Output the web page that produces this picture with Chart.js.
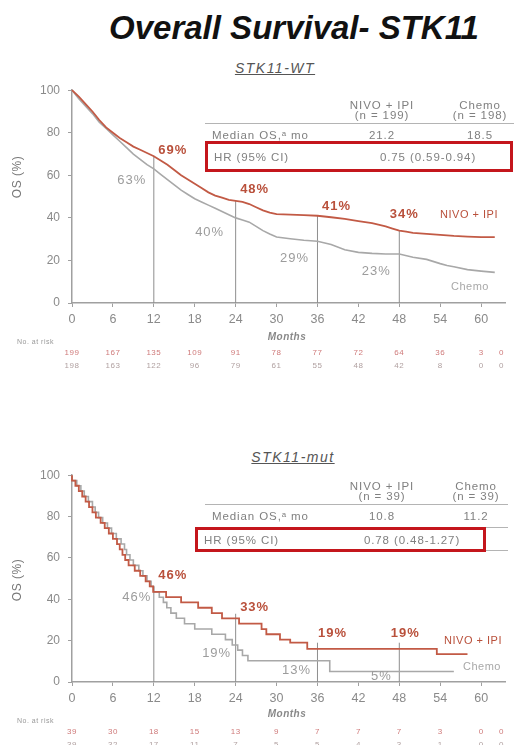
<!DOCTYPE html>
<html>
<head>
<meta charset="utf-8">
<script src="https://cdn.jsdelivr.net/npm/chart.js@4.4.1/dist/chart.umd.min.js"></script>
<style>
  html, body { margin: 0; padding: 0; background: #fff; overflow: hidden; }
  #wrap { position: relative; width: 514px; height: 745px; font-family: "Liberation Sans", Arial, sans-serif; }
  canvas { position: absolute; left: 0; }
  .t { position: absolute; white-space: nowrap; transform: translate(-50%, -50%); color: #808080; font-size: 11.5px; letter-spacing: 0.9px; }
  .l { transform: translate(0, -50%); }
  .box { position: absolute; border: 3px solid #c4161c; box-sizing: border-box; }
  .rule { position: absolute; height: 0; border-top: 1.5px solid #b4b4b4; }
  #title { position: absolute; left: 294px; top: 28px; transform: translate(-50%, -50%); white-space: nowrap;
           font: italic bold 33px "Liberation Sans", Arial, sans-serif; color: #111; }
  .sub { position: absolute; transform: translate(-50%, -50%); white-space: nowrap; font: italic 14px "Liberation Sans", Arial, sans-serif;
         color: #555; text-decoration: underline; letter-spacing: 1.5px; }
</style>
</head>
<body>
<div id="wrap">
  <div id="title">Overall Survival- STK11</div>
  <div class="sub" style="left:275px;top:68px">STK11-WT</div>
  <div class="sub" style="left:293px;top:457px">STK11-mut</div>
  <canvas id="wt" width="514" height="300" style="top:75px"></canvas>
  <canvas id="mut" width="514" height="285" style="top:460px"></canvas>
</div>
<script>
// axis ticks
const xTicks = [0, 6, 12, 18, 24, 30, 36, 42, 48, 54, 60];
const yTicks = [0, 20, 40, 60, 80, 100];
const landmarks = [12, 24, 36, 48];
const riskMonths = [0, 6, 12, 18, 24, 30, 36, 42, 48, 54, 60, 63];

// STK11-WT: [month, OS %]
const wtNivo = [[0,100],[1,97],[2,93.5],[3,90],[4,86],[5,82.5],[6,80],[7,77.5],[8,75.5],[9,73.5],[10,72],[11,70.5],
  [12,69],[13,67],[14,65],[15,62.5],[16,60],[17,58],[18,56],[19,54],[20,52],[21,50.5],[22,49.5],[23,48.5],[24,48],
  [25,47.5],[26,46.5],[27,45],[28,43.5],[29,42.5],[30,41.8],[32,41.5],[34,41.3],[36,41],[38,40.3],[40,39.5],[42,38.5],
  [44,37.5],[46,36],[47,35],[48,34],[49,33.5],[50,33],[52,32.5],[54,32],[56,31.5],[58,31.2],[60,31],[62,31]];
const wtChemo = [[0,100],[1,96],[2,92.5],[3,89],[4,85],[5,82],[6,79],[7,76],[8,73],[9,70],[10,67.5],[11,65],
  [12,63],[13,60.5],[14,58],[15,55.5],[16,53],[17,51],[18,49],[19,47.5],[20,46],[21,44.5],[22,43],[23,41.5],[24,40],
  [25,39],[26,38],[27,36],[28,34],[29,32.4],[30,31],[32,30.2],[34,29.5],[36,29],[38,27.5],[40,25],[42,23.8],[44,23.3],
  [46,23],[48,23],[50,21.5],[52,20.5],[54,18.5],[55,17.6],[56,17],[58,15.7],[60,15],[62,14.4]];
const wtNivoPct = [69, 48, 41, 34];
const wtChemoPct = [63, 40, 29, 23];
const wtRiskNivo = [199, 167, 135, 109, 91, 78, 77, 72, 64, 36, 3, 0];
const wtRiskChemo = [198, 163, 122, 96, 79, 61, 55, 48, 42, 8, 0, 0];
const wtTable = { n: ['(n = 199)', '(n = 198)'], median: ['21.2', '18.5'], hr: '0.75 (0.59-0.94)' };

// STK11-mut: [month, OS %]
const mutNivo = [[0,100],[0.5,97.4],[1,94.9],[1.5,92.3],[2,89.7],[2.5,87.2],[3,84.6],[3.5,82],[4.2,79.5],[4.8,76.9],
  [5.4,74.4],[6,71.8],[6.6,69.2],[7,66.7],[7.4,64.1],[7.8,61.5],[8.3,59],[9.2,56.4],[10,53.8],[10.8,51.3],[11.4,48.7],
  [11.9,46.2],[13.8,43.6],[16,41],[18.5,38.5],[20.5,35.9],[22,33.3],[24.5,30.8],[27.8,28.2],[28.5,25.6],[30.5,23.1],
  [32,20.5],[34.5,19],[53.5,16],[54,13.5],[58,13.5]];
const mutChemo = [[0,100],[0.7,97.4],[1.3,94.9],[1.8,92.3],[2.4,89.7],[3,87.2],[3.4,84.6],[3.9,82],[4.5,79.5],
  [5.2,76.9],[5.8,74.4],[6.5,71.8],[7.2,69.2],[7.7,66.7],[8,64.1],[8.5,61.5],[9,59],[9.8,56.4],[10.4,53.8],[11,51.3],
  [11.6,48.7],[12,46.2],[12.8,43.6],[13.4,41],[13.9,38.5],[14.5,35.9],[15.3,33.3],[16.5,30.8],[18,28.2],[20.5,25.6],
  [22.5,23.1],[23.5,20.5],[24.3,17.9],[25,15.4],[25.8,12.8],[37.8,10.3],[48,5.1],[56,5.1]];
const mutNivoPct = [46, 33, 19, 19];
const mutChemoPct = [46, 19, 13, 5];
const mutRiskNivo = [39, 30, 18, 15, 13, 9, 7, 7, 7, 3, 0, 0];
const mutRiskChemo = [39, 32, 17, 11, 7, 5, 5, 4, 3, 1, 0, 0];
const mutTable = { n: ['(n = 39)', '(n = 39)'], median: ['10.8', '11.2'], hr: '0.78 (0.48-1.27)' };

const RED = '#c25a45';
const RED_TXT = '#b9503b';
const GREY = '#a8a8a8';
const AXIS = '#a0a0a0';
const FONT = '"Liberation Sans", Arial, sans-serif';

/* ---------- HTML table overlay ---------- */
const wrap = document.getElementById('wrap');
function addText(text, x, y, cls, css) {
  const d = document.createElement('div');
  d.className = cls || 't';
  d.textContent = text;
  d.style.left = x + 'px';
  d.style.top = y + 'px';
  if (css) d.style.cssText += css;
  wrap.appendChild(d);
}
function addDiv(cls, css) {
  const d = document.createElement('div');
  d.className = cls;
  d.style.cssText = css;
  wrap.appendChild(d);
}
function drawTable(t, top, o) {
  addText('NIVO + IPI', 382, top, 't');
  addText('Chemo', o.chemoX, top, 't');
  addText(t.n[0], 382, top + 10, 't');
  addText(t.n[1], o.chemoX, top + 10, 't');
  addDiv('rule', `left:205px;width:${o.ruleW}px;top:${top + 18}px`);
  addText('Median OS,ᵃ mo', 212, top + 30, 't l');
  addText(t.median[0], 382, top + 30, 't');
  addText(t.median[1], o.chemoX, top + 30, 't');
  addDiv('box', `left:${o.boxL}px;top:${o.boxT}px;width:${o.boxW}px;height:${o.boxH}px`);
  addText('HR (95% CI)', o.boxL + 9, o.boxT + o.boxH / 2, 't l');
  addText(t.hr, o.hrX, o.boxT + o.boxH / 2, 't');
}
drawTable(wtTable, 105, { chemoX: 480, ruleW: 309, boxL: 205, boxT: 141, boxW: 308, boxH: 31, hrX: 428 });
drawTable(mutTable, 486, { chemoX: 476, ruleW: 303, boxL: 195, boxT: 527, boxW: 291, boxH: 25, hrX: 412 });
addDiv('rule', 'left:486px;width:22px;top:527px');
addDiv('rule', 'left:486px;width:22px;top:550px');

/* ---------- chart plugin: labels, axis titles, numbers at risk ---------- */
const overlay = {
  id: 'overlay',
  afterDraw(chart, args, o) {
    const { ctx, scales: { x, y }, chartArea } = chart;
    ctx.save();
    ctx.textAlign = 'center';
    ctx.textBaseline = 'middle';

    // landmark percentages
    o.marks.forEach(m => {
      ctx.font = m.font;
      ctx.fillStyle = m.color;
      ctx.letterSpacing = '1px';
      ctx.fillText(m.text, x.getPixelForValue(m.month) + m.dx, y.getPixelForValue(m.pct) + m.dy);
    });
    ctx.letterSpacing = '0.5px';

    // arm names at the end of the curves
    ctx.font = '11px ' + FONT;
    ctx.fillStyle = RED_TXT;
    ctx.fillText('NIVO + IPI', o.nivoTag[0], o.nivoTag[1]);
    ctx.fillStyle = GREY;
    ctx.fillText('Chemo', o.chemoTag[0], o.chemoTag[1]);

    // y title
    ctx.save();
    ctx.translate(18, o.yTitleY);
    ctx.rotate(-Math.PI / 2);
    ctx.fillStyle = '#777';
    ctx.font = '12px ' + FONT;
    ctx.fillText('OS (%)', 0, 0);
    ctx.restore();

    // x title
    ctx.font = 'italic bold 10px ' + FONT;
    ctx.fillStyle = '#888';
    ctx.fillText('Months', 287, chartArea.bottom + o.monthsDy);

    // numbers at risk
    ctx.textAlign = 'left';
    ctx.font = '7px ' + FONT;
    ctx.fillStyle = '#999';
    ctx.fillText('No. at risk', 17, chartArea.bottom + o.riskDy);
    ctx.textAlign = 'center';
    ctx.font = '8px ' + FONT;
    o.risk.forEach((row, r) => {
      ctx.fillStyle = r === 0 ? '#cf7a7a' : '#b0a0a0';
      row.forEach((n, i) => {
        ctx.fillText(String(n), x.getPixelForValue(riskMonths[i]), chartArea.bottom + o.riskDy + 11 + r * 13);
      });
    });
    ctx.restore();
  }
};

function pts(arr) { return arr.map(p => ({ x: p[0], y: p[1] })); }

function buildMarks(nivoPct, chemoPct, offs) {
  const out = [];
  landmarks.forEach((m, i) => {
    out.push({ text: nivoPct[i] + '%', month: m, pct: nivoPct[i], dx: offs.nivo[i][0], dy: offs.nivo[i][1],
               color: RED_TXT, font: 'bold 13px ' + FONT });
    out.push({ text: chemoPct[i] + '%', month: m, pct: chemoPct[i], dx: offs.chemo[i][0], dy: offs.chemo[i][1],
               color: '#9c9c9c', font: '13px ' + FONT });
  });
  return out;
}

function makeChart(id, cfg) {
  const guides = landmarks.map((m, i) => ({
    data: [{ x: m, y: 0 }, { x: m, y: cfg.nivoPct[i] }],
    borderColor: '#8e8e8e', borderWidth: 1, pointRadius: 0, order: 3
  }));
  return new Chart(document.getElementById(id), {
    type: 'line',
    data: {
      datasets: [
        ...guides,
        { data: pts(cfg.chemo), borderColor: GREY, borderWidth: 1.6, pointRadius: 0, stepped: cfg.stepped, clip: 4, order: 2 },
        { data: pts(cfg.nivo), borderColor: RED, borderWidth: 1.8, pointRadius: 0, stepped: cfg.stepped, clip: 4, order: 1 }
      ]
    },
    options: {
      responsive: false,
      animation: false,
      layout: { padding: { top: cfg.padTop, right: 9, left: 0, bottom: 0 } },
      plugins: {
        legend: { display: false },
        tooltip: { enabled: false },
        overlay: cfg.overlay
      },
      scales: {
        x: {
          type: 'linear', min: 0, max: 63.5,
          afterBuildTicks: s => { s.ticks = xTicks.map(v => ({ value: v })); },
          afterFit: s => { s.height = cfg.xAxisH; },
          grid: { drawOnChartArea: false, drawTicks: true, tickLength: 4, color: AXIS },
          border: { display: true, color: AXIS, width: 1.5 },
          ticks: { color: '#8a8a8a', font: { size: 12.5, family: FONT }, padding: 5, maxRotation: 0 }
        },
        y: {
          min: 0, max: 100,
          afterBuildTicks: s => { s.ticks = yTicks.map(v => ({ value: v })); },
          afterFit: s => { s.width = 72; },
          grid: { drawOnChartArea: false, drawTicks: true, tickLength: 4, color: AXIS },
          border: { display: true, color: AXIS, width: 1.5 },
          ticks: { color: '#8a8a8a', font: { size: 12, family: FONT }, padding: 8 }
        }
      }
    },
    plugins: [overlay]
  });
}

makeChart('wt', {
  nivo: wtNivo, chemo: wtChemo, nivoPct: wtNivoPct, stepped: false,
  padTop: 12, xAxisH: 72,
  overlay: {
    marks: buildMarks(wtNivoPct, wtChemoPct, {
      nivo: [[19, -6], [19, -11], [19, -9], [5, -16]],
      chemo: [[-22, 11], [-26, 15], [-23, 17], [-23, 17]]
    }),
    nivoTag: [469, 140], chemoTag: [470, 212],
    yTitleY: 102, monthsDy: 34, riskDy: 39,
    risk: [wtRiskNivo, wtRiskChemo]
  }
});

makeChart('mut', {
  nivo: mutNivo, chemo: mutChemo, nivoPct: mutNivoPct, stepped: 'after',
  padTop: 13, xAxisH: 63,
  overlay: {
    marks: buildMarks(mutNivoPct, mutChemoPct, {
      nivo: [[19, -11], [19, -6], [15, -9], [6, -9]],
      chemo: [[-17, 11], [-19, 11], [-21, 15], [-18, 5]]
    }),
    nivoTag: [473, 181], chemoTag: [482, 207],
    yTitleY: 120, monthsDy: 32, riskDy: 39,
    risk: [mutRiskNivo, mutRiskChemo]
  }
});
</script>
</body>
</html>
